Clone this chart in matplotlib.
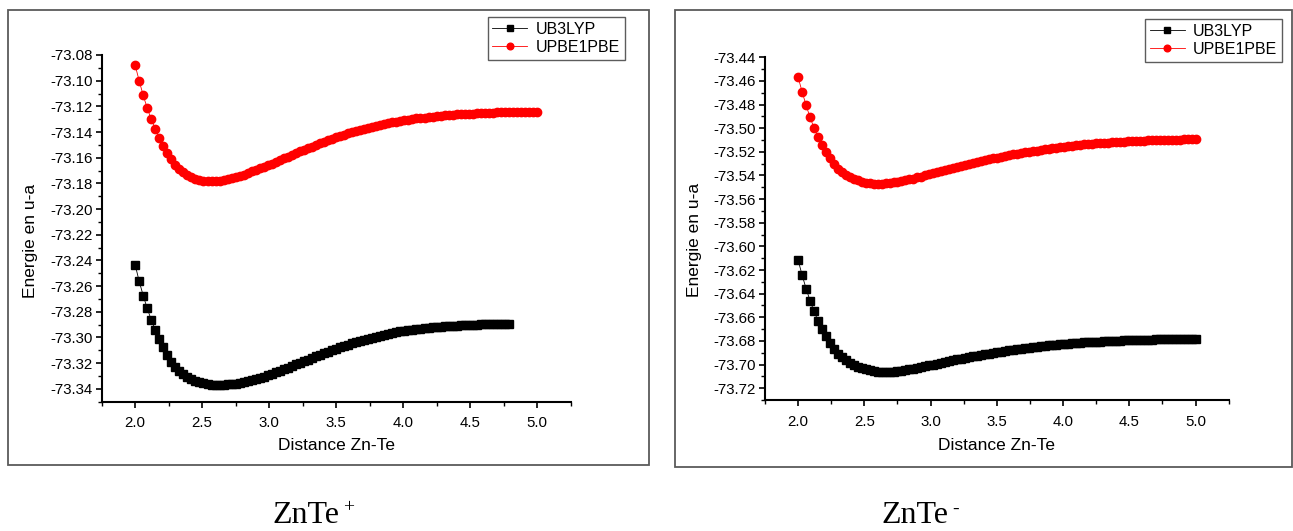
import numpy as np
import matplotlib
matplotlib.use('Agg')
import matplotlib.pyplot as plt
from matplotlib.ticker import MultipleLocator, FormatStrFormatter
from matplotlib.patches import Rectangle

plt.rcParams['font.family'] = ['Liberation Sans', 'DejaVu Sans']
plt.rcParams['axes.unicode_minus'] = False

# Zn-Te distance scan (step 0.03)
distance = np.round(2.0 + 0.03 * np.arange(101), 2)

# ZnTe+ energies (u.a.)
plus_b3lyp = [
    -73.2435, -73.2563, -73.2674, -73.2774, -73.2863, -73.2942, -73.3011, -73.3074, -73.3134, -73.3188,
    -73.3233, -73.3261, -73.3285, -73.3306, -73.3324, -73.3338, -73.3349, -73.3358, -73.3364, -73.3368,
    -73.3370, -73.3370, -73.3369, -73.3366, -73.3363, -73.3359, -73.3354, -73.3348, -73.3341, -73.3333,
    -73.3324, -73.3315, -73.3305, -73.3294, -73.3283, -73.3272, -73.3260, -73.3247, -73.3234, -73.3222,
    -73.3209, -73.3197, -73.3185, -73.3172, -73.3160, -73.3147, -73.3135, -73.3122, -73.3110, -73.3098,
    -73.3087, -73.3076, -73.3065, -73.3056, -73.3046, -73.3037, -73.3028, -73.3018, -73.3009, -73.3001,
    -73.2993, -73.2985, -73.2978, -73.2971, -73.2964, -73.2958, -73.2952, -73.2947, -73.2942, -73.2938,
    -73.2934, -73.2930, -73.2927, -73.2923, -73.2920, -73.2917, -73.2915, -73.2913, -73.2911, -73.2909,
    -73.2907, -73.2905, -73.2904, -73.2902, -73.2901, -73.2899, -73.2898, -73.2897, -73.2897, -73.2896,
    -73.2895, -73.2895, -73.2894, -73.2894,
]
plus_pbe = [
    -73.0880, -73.1002, -73.1115, -73.1214, -73.1300, -73.1375, -73.1443, -73.1505, -73.1560, -73.1610,
    -73.1657, -73.1688, -73.1715, -73.1735, -73.1751, -73.1763, -73.1772, -73.1778, -73.1781, -73.1783,
    -73.1783, -73.1781, -73.1776, -73.1769, -73.1761, -73.1752, -73.1742, -73.1731, -73.1719, -73.1707,
    -73.1695, -73.1683, -73.1670, -73.1658, -73.1645, -73.1632, -73.1619, -73.1605, -73.1591, -73.1578,
    -73.1565, -73.1551, -73.1538, -73.1525, -73.1513, -73.1500, -73.1488, -73.1476, -73.1463, -73.1452,
    -73.1441, -73.1430, -73.1420, -73.1411, -73.1401, -73.1392, -73.1384, -73.1376, -73.1368, -73.1361,
    -73.1353, -73.1346, -73.1338, -73.1331, -73.1325, -73.1319, -73.1313, -73.1308, -73.1303, -73.1298,
    -73.1294, -73.1290, -73.1287, -73.1283, -73.1279, -73.1275, -73.1273, -73.1270, -73.1268, -73.1265,
    -73.1263, -73.1261, -73.1259, -73.1257, -73.1256, -73.1254, -73.1253, -73.1251, -73.1250, -73.1248,
    -73.1247, -73.1246, -73.1246, -73.1245, -73.1245, -73.1244, -73.1244, -73.1244, -73.1244, -73.1244,
    -73.1243,
]

# ZnTe- energies (u.a.)
minus_b3lyp = [
    -73.6117, -73.6242, -73.6357, -73.6459, -73.6550, -73.6628, -73.6697, -73.6758, -73.6814, -73.6865,
    -73.6910, -73.6939, -73.6964, -73.6986, -73.7004, -73.7018, -73.7031, -73.7041, -73.7049, -73.7055,
    -73.7059, -73.7061, -73.7062, -73.7061, -73.7059, -73.7056, -73.7052, -73.7047, -73.7041, -73.7035,
    -73.7028, -73.7021, -73.7014, -73.7008, -73.7001, -73.6994, -73.6987, -73.6979, -73.6971, -73.6963,
    -73.6956, -73.6950, -73.6943, -73.6937, -73.6931, -73.6925, -73.6919, -73.6913, -73.6907, -73.6902,
    -73.6896, -73.6891, -73.6886, -73.6881, -73.6876, -73.6871, -73.6866, -73.6862, -73.6857, -73.6853,
    -73.6849, -73.6845, -73.6841, -73.6838, -73.6834, -73.6831, -73.6828, -73.6825, -73.6823, -73.6820,
    -73.6818, -73.6815, -73.6813, -73.6811, -73.6809, -73.6807, -73.6806, -73.6804, -73.6802, -73.6800,
    -73.6799, -73.6797, -73.6795, -73.6794, -73.6793, -73.6792, -73.6791, -73.6790, -73.6790, -73.6789,
    -73.6788, -73.6787, -73.6786, -73.6785, -73.6785, -73.6784, -73.6784, -73.6783, -73.6783, -73.6783,
    -73.6783,
]
minus_pbe = [
    -73.4569, -73.4691, -73.4805, -73.4908, -73.4997, -73.5073, -73.5142, -73.5202, -73.5255, -73.5302,
    -73.5342, -73.5370, -73.5393, -73.5413, -73.5429, -73.5442, -73.5452, -73.5460, -73.5465, -73.5468,
    -73.5469, -73.5468, -73.5466, -73.5462, -73.5457, -73.5452, -73.5446, -73.5440, -73.5433, -73.5426,
    -73.5417, -73.5409, -73.5400, -73.5391, -73.5382, -73.5373, -73.5363, -73.5353, -73.5343, -73.5334,
    -73.5325, -73.5316, -73.5308, -73.5300, -73.5292, -73.5285, -73.5277, -73.5270, -73.5262, -73.5255,
    -73.5248, -73.5241, -73.5235, -73.5228, -73.5221, -73.5215, -73.5210, -73.5204, -73.5199, -73.5194,
    -73.5189, -73.5184, -73.5179, -73.5174, -73.5169, -73.5164, -73.5159, -73.5155, -73.5151, -73.5147,
    -73.5144, -73.5141, -73.5137, -73.5134, -73.5132, -73.5129, -73.5127, -73.5124, -73.5121, -73.5119,
    -73.5117, -73.5116, -73.5114, -73.5112, -73.5110, -73.5108, -73.5107, -73.5105, -73.5103, -73.5102,
    -73.5101, -73.5100, -73.5099, -73.5098, -73.5098, -73.5097, -73.5096, -73.5095, -73.5095, -73.5094,
    -73.5094,
]

W, H = 1293, 531
fig = plt.figure(figsize=(W / 100, H / 100), dpi=100)


def px(x0, y0, x1, y1):
    # pixel box (top-left origin) -> figure fraction rect
    return [x0 / W, 1 - y1 / H, (x1 - x0) / W, (y1 - y0) / H]


def panel(rect, ylim, b3, pbe, frame, leg_anchor, ylab_xy, xlab_xy):
    fig.patches.append(Rectangle((frame[0], frame[1]), frame[2], frame[3], transform=fig.transFigure,
                                 fill=False, edgecolor='#5a5a5a', linewidth=1.3))
    ax = fig.add_axes(rect)
    ax.plot(distance[:len(b3)], b3, color='black', marker='s', markersize=5.3, linewidth=0.6,
            label='UB3LYP')
    ax.plot(distance[:len(pbe)], pbe, color='red', marker='o', markersize=6.0, linewidth=0.6,
            label='UPBE1PBE')
    ax.set_xlim(1.75, 5.25)
    ax.set_ylim(*ylim)
    ax.xaxis.set_major_locator(MultipleLocator(0.5))
    ax.xaxis.set_minor_locator(MultipleLocator(0.25))
    ax.yaxis.set_major_locator(MultipleLocator(0.02))
    ax.yaxis.set_minor_locator(MultipleLocator(0.01))
    ax.xaxis.set_major_formatter(FormatStrFormatter('%.1f'))
    ax.yaxis.set_major_formatter(FormatStrFormatter('%.2f'))
    for s in ['top', 'right']:
        ax.spines[s].set_visible(False)
    for s in ['left', 'bottom']:
        ax.spines[s].set_linewidth(1.5)
    ax.tick_params(which='major', direction='out', length=4.5, width=1.2, labelsize=10.8)
    ax.tick_params(which='minor', direction='out', length=3, width=1.0)
    ax.tick_params(axis='x', which='major', pad=6)
    ax.tick_params(axis='y', which='major', pad=2)
    fig.text(ylab_xy[0] / W, 1 - ylab_xy[1] / H, 'Energie en u-a', rotation=90,
             ha='center', va='center', fontsize=12.5)
    fig.text(xlab_xy[0] / W, 1 - xlab_xy[1] / H, 'Distance Zn-Te',
             ha='center', va='center', fontsize=12.5)
    leg = ax.legend(loc='upper right', bbox_to_anchor=(leg_anchor[0] / W, 1 - leg_anchor[1] / H),
                    bbox_transform=fig.transFigure, fontsize=11.5, frameon=True, fancybox=False,
                    handlelength=2.2, handletextpad=0.5, borderpad=0.3, labelspacing=0.2,
                    borderaxespad=0, markerscale=0.8)
    leg.get_frame().set_edgecolor('#333333')
    leg.get_frame().set_linewidth(1.0)
    return ax


panel(px(101.7, 55, 570.5, 401.7), (-73.35, -73.08), plus_b3lyp, plus_pbe,
      px(8, 10, 649, 465), (624.5, 17), (31, 241), (336.5, 445))
panel(px(765, 57.3, 1228.7, 400), (-73.73, -73.44), minus_b3lyp, minus_pbe,
      px(675, 10, 1292, 467), (1282, 19), (695, 240), (996, 446))

serif = ['Liberation Serif', 'DejaVu Serif']
fig.text(272 / W, 1 - 523 / H, 'ZnTe', family=serif, fontsize=23, ha='left', va='baseline')
fig.text(343 / W, 1 - 512 / H, '+', family=serif, fontsize=14, ha='left', va='baseline')
fig.text(881 / W, 1 - 523 / H, 'ZnTe', family=serif, fontsize=23, ha='left', va='baseline')
fig.text(952 / W, 1 - 514 / H, '-', family=serif, fontsize=14, ha='left', va='baseline')

fig.savefig('out.png', dpi=100)
